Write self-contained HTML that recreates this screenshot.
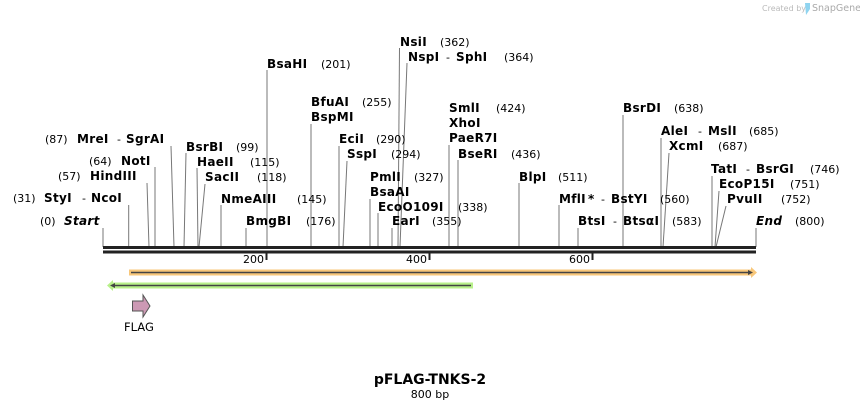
<!DOCTYPE html>
<html><head><meta charset="utf-8"><style>
html,body{margin:0;padding:0;background:#fff;}
svg text{font-family:"DejaVu Sans","Liberation Sans",sans-serif;font-size:11px;fill:#000;}
.b{font-weight:bold;font-size:12px;letter-spacing:0.3px;}
.l{stroke:#777;stroke-width:1;fill:none;}
</style></head><body>
<svg width="860" height="409" xmlns="http://www.w3.org/2000/svg">
<text x="762" y="11" style="font-size:8px;fill:#bbb;">Created by</text>
<path d="M805 3 h5 v6 l-4 6 z" fill="#8fd4f0"/>
<text x="812" y="11" style="font-size:9.5px;fill:#aaa;">SnapGene</text>

<g class="l">
<polyline points="103,228 103,247"/>
<polyline points="128.7,205 128.7,247"/>
<polyline points="147,183 149,247"/>
<polyline points="155,167 155,247"/>
<polyline points="171,146 174,247"/>
<polyline points="186,153 184,247"/>
<polyline points="197,168 198,247"/>
<polyline points="205,184 199,247"/>
<polyline points="221,205 221,247"/>
<polyline points="246,228 246,247"/>
<polyline points="267,70 267,247"/>
<polyline points="311,124 311,247"/>
<polyline points="339,146 339,247"/>
<polyline points="347,161 343,247"/>
<polyline points="370,199 370,247"/>
<polyline points="378,213 378,247"/>
<polyline points="392,228 392,247"/>
<polyline points="399.5,48 398,247"/>
<polyline points="407,63 400,247"/>
<polyline points="449,145 449,247"/>
<polyline points="458,160 458,247"/>
<polyline points="519,183 519,247"/>
<polyline points="559,205 559,247"/>
<polyline points="578,228 578,247"/>
<polyline points="623,115 623,247"/>
<polyline points="661,138 661,247"/>
<polyline points="669,153 663,247"/>
<polyline points="712,176 712,247"/>
<polyline points="719,191 715,247"/>
<polyline points="726,206 716,247"/>
<polyline points="756,228 756,247"/>
</g>

<text x="40" y="225">(0)</text><text x="64" y="225" class="b" font-style="italic">Start</text>
<text x="13" y="202">(31)</text><text x="44" y="202" class="b">StyI</text><text x="82" y="202">-</text><text x="91" y="202" class="b">NcoI</text>
<text x="58" y="180">(57)</text><text x="90" y="180" class="b">HindIII</text>
<text x="89" y="165">(64)</text><text x="121" y="165" class="b">NotI</text>
<text x="45" y="143">(87)</text><text x="77" y="143" class="b">MreI</text><text x="117" y="143">-</text><text x="126" y="143" class="b">SgrAI</text>
<text x="186" y="151" class="b">BsrBI</text><text x="236" y="151">(99)</text>
<text x="197" y="166" class="b">HaeII</text><text x="250" y="166">(115)</text>
<text x="205" y="181" class="b">SacII</text><text x="257" y="181">(118)</text>
<text x="221" y="203" class="b">NmeAIII</text><text x="297" y="203">(145)</text>
<text x="246" y="225" class="b">BmgBI</text><text x="306" y="225">(176)</text>
<text x="267" y="68" class="b">BsaHI</text><text x="321" y="68">(201)</text>
<text x="311" y="106" class="b">BfuAI</text><text x="362" y="106">(255)</text>
<text x="311" y="121" class="b">BspMI</text>
<text x="339" y="143" class="b">EciI</text><text x="376" y="143">(290)</text>
<text x="347" y="158" class="b">SspI</text><text x="391" y="158">(294)</text>
<text x="370" y="181" class="b">PmlI</text><text x="414" y="181">(327)</text>
<text x="370" y="196" class="b">BsaAI</text>
<text x="378" y="211" class="b">EcoO109I</text><text x="458" y="211">(338)</text>
<text x="392" y="225" class="b">EarI</text><text x="432" y="225">(355)</text>
<text x="400" y="46" class="b">NsiI</text><text x="440" y="46">(362)</text>
<text x="408" y="61" class="b">NspI</text><text x="446" y="61">-</text><text x="456" y="61" class="b">SphI</text><text x="504" y="61">(364)</text>
<text x="449" y="112" class="b">SmlI</text><text x="496" y="112">(424)</text>
<text x="449" y="127" class="b">XhoI</text>
<text x="449" y="142" class="b">PaeR7I</text>
<text x="458" y="158" class="b">BseRI</text><text x="511" y="158">(436)</text>
<text x="519" y="181" class="b">BlpI</text><text x="558" y="181">(511)</text>
<text x="559" y="203" class="b">MflI</text><text x="588" y="203" class="b">*</text><text x="601" y="203">-</text><text x="611" y="203" class="b">BstYI</text><text x="660" y="203">(560)</text>
<text x="578" y="225" class="b">BtsI</text><text x="613" y="225">-</text><text x="623" y="225" class="b">BtsαI</text><text x="672" y="225">(583)</text>
<text x="623" y="112" class="b">BsrDI</text><text x="674" y="112">(638)</text>
<text x="661" y="135" class="b">AleI</text><text x="698" y="135">-</text><text x="708" y="135" class="b">MslI</text><text x="749" y="135">(685)</text>
<text x="669" y="150" class="b">XcmI</text><text x="718" y="150">(687)</text>
<text x="711" y="173" class="b">TatI</text><text x="746" y="173">-</text><text x="756" y="173" class="b">BsrGI</text><text x="810" y="173">(746)</text>
<text x="719" y="188" class="b">EcoP15I</text><text x="790" y="188">(751)</text>
<text x="727" y="203" class="b">PvuII</text><text x="781" y="203">(752)</text>
<text x="756" y="225" class="b" font-style="italic">End</text><text x="795" y="225">(800)</text>

<rect x="103" y="246" width="653" height="3" fill="#222"/>
<rect x="103" y="250.5" width="653" height="3" fill="#222"/>
<rect x="265.5" y="252" width="2" height="8" fill="#222"/>
<rect x="428.5" y="252" width="2" height="8" fill="#222"/>
<rect x="591.5" y="252" width="2" height="8" fill="#222"/>
<text x="243" y="263">200</text>
<text x="406" y="263">400</text>
<text x="569" y="263">600</text>

<rect x="129" y="269.5" width="622" height="6" fill="#f8c77a"/>
<path d="M751 267 L757 272.5 L751 278 Z" fill="#f8c77a"/>
<line x1="131" y1="272.5" x2="750" y2="272.5" stroke="#444" stroke-width="1.5"/>
<path d="M748 270 L753 272.5 L748 275 Z" fill="#444"/>

<rect x="113" y="282.5" width="360" height="6" fill="#b8f08a"/>
<path d="M113 280 L107 285.5 L113 291 Z" fill="#b8f08a"/>
<line x1="112" y1="285.5" x2="471" y2="285.5" stroke="#444" stroke-width="1.5"/>
<path d="M115 283 L110 285.5 L115 288 Z" fill="#444"/>

<path d="M132.5 301 H143 V295 L150 306 L143 317 V311 H132.5 Z" fill="#cc99b4" stroke="#555" stroke-width="1"/>
<text x="124" y="331" style="font-size:11.5px;">FLAG</text>

<text x="430" y="384" text-anchor="middle" style="font-size:14px;font-weight:bold;">pFLAG-TNKS-2</text>
<text x="430" y="398" text-anchor="middle" style="font-size:11px;">800 bp</text>
</svg>
</body></html>
